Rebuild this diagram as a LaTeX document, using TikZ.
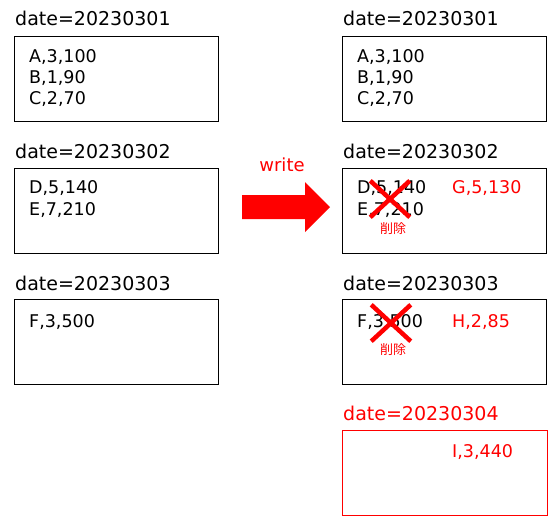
\documentclass[tikz,border=0pt]{standalone}
\usepackage{fontspec}
\setmainfont{DejaVu Sans}
\newfontfamily\jpfont{Noto Sans CJK JP}
\usetikzlibrary{shapes.misc}

\begin{document}
\begin{tikzpicture}[x=1pt,y=-1pt,
  box/.style={draw,line width=0.8pt,minimum width=204pt,minimum height=85pt,anchor=north west,inner sep=0pt},
  title/.style={anchor=west,inner sep=0pt,font=\fontsize{19}{21}\selectfont},
  row/.style={anchor=west,inner sep=0pt,font=\fontsize{17.5}{20}\selectfont},
  del/.style={cross out,draw=red,line width=4.5pt,minimum width=35pt,minimum height=32pt,inner sep=0pt},
  delnote/.style={text=red,inner sep=0pt,font=\jpfont\fontsize{13}{14}\selectfont}]
\useasboundingbox (0,0) rectangle (559,523);

% before
\node[title] (lt1) at (15,18) {date=20230301};
\node[box] (lb1) at (14,36) {};
\node[row] (la) at (29,57) {A,3,100};
\node[row] (lb) at (29,78) {B,1,90};
\node[row] (lc) at (29,99) {C,2,70};

\node[title] (lt2) at (15,151) {date=20230302};
\node[box] (lb2) at (14,168) {};
\node[row] (ld) at (29,188) {D,5,140};
\node[row] (le) at (29,210) {E,7,210};

\node[title] (lt3) at (15,283) {date=20230303};
\node[box] (lb3) at (14,299) {};
\node[row] (lf) at (29,322) {F,3,500};

% write
\node[text=red,font=\fontsize{18}{20}\selectfont] (w) at (282,165) {write};
\fill[red] (242,195) -- (305,195) -- (305,182) -- (330,207)
  -- (305,232) -- (305,219) -- (242,219) -- cycle;

% after
\node[title] (rt1) at (343,18) {date=20230301};
\node[box] (rb1) at (342,36) {};
\node[row] (ra) at (357,57) {A,3,100};
\node[row] (rb) at (357,78) {B,1,90};
\node[row] (rc) at (357,99) {C,2,70};

\node[title] (rt2) at (343,151) {date=20230302};
\node[box] (rb2) at (342,168) {};
\node[row] (rd) at (357,188) {D,5,140};
\node[row] (re) at (357,210) {E,7,210};
\node[row,text=red] (rg) at (452,188) {G,5,130};
\node[del] (x1) at (390,199) {};
\node[delnote] (n1) at (393,229) {削除};

\node[title] (rt3) at (343,283) {date=20230303};
\node[box] (rb3) at (342,299) {};
\node[row] (rf) at (357,322) {F,3,500};
\node[row,text=red] (rh) at (452,322) {H,2,85};
\node[del] (x2) at (391,323) {};
\node[delnote] (n2) at (393,350) {削除};

\node[title,text=red] (rt4) at (343,413) {date=20230304};
\node[box,draw=red,minimum width=205pt] (rb4) at (342,430) {};
\node[row,text=red] (ri) at (452,452) {I,3,440};
\end{tikzpicture}
\end{document}
